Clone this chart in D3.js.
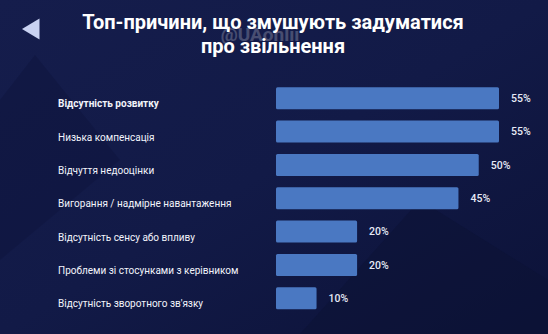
<!DOCTYPE html>
<html><head><meta charset="utf-8">
<script src="https://cdn.jsdelivr.net/npm/d3@7"></script>
<style>
html,body{margin:0;padding:0;background:#10173f;}
svg{display:block;}
</style></head>
<body>
<svg id="chart" width="548" height="334"></svg>
<script>
const categories = [
  "Відсутність розвитку",
  "Низька компенсація",
  "Відчуття недооцінки",
  "Вигорання / надмірне навантаження",
  "Відсутність сенсу або впливу",
  "Проблеми зі стосунками з керівником",
  "Відсутність зворотного зв'язку"
];
const values = [55, 55, 50, 45, 20, 20, 10];
const titleLines = ["Топ-причини, що змушують задуматися", "про звільнення"];
const watermark = "@UAonlii";

const W = 548, H = 334;
const svg = d3.select("#chart");

const defs = svg.append("defs");
const bg = defs.append("linearGradient").attr("id","bg").attr("x1","0").attr("y1","0").attr("x2","1").attr("y2","1");
bg.append("stop").attr("offset","0").attr("stop-color","#151d4c");
bg.append("stop").attr("offset","0.5").attr("stop-color","#121a47");
bg.append("stop").attr("offset","1").attr("stop-color","#0c1238");
svg.append("rect").attr("width",W).attr("height",H).attr("fill","url(#bg)");

// faint background facets
svg.append("path").attr("d","M0,100 L35,55 L120,160 L0,260 Z").attr("fill","#0f1640").attr("opacity",0.6);
svg.append("path").attr("d","M300,334 L420,200 L548,280 L548,334 Z").attr("fill","#0b1133").attr("opacity",0.5);

// back arrow
svg.append("path").attr("d", d3.line()([[22,29],[39.5,18.5],[39.5,39.5]]) + "Z").attr("fill","#c9d2f2");

// title
svg.append("g").selectAll("text").data(titleLines).join("text")
  .attr("x", 273).attr("y", (d,i)=> 29 + i*24)
  .attr("text-anchor","middle")
  .attr("font-family","Roboto, 'Noto Sans', sans-serif")
  .attr("font-weight","700").attr("font-size","20px")
  .attr("fill","#ffffff").text(d=>d);

svg.append("text").attr("x",260).attr("y",41).attr("text-anchor","middle")
  .attr("font-family","Roboto, sans-serif").attr("font-weight","700").attr("font-size","19px")
  .attr("fill","#ffffff").attr("opacity",0.22).text(watermark);

const x = d3.scaleLinear().domain([0, 55]).range([276, 499]);
const y = d3.scaleBand().domain(categories).range([81.6, 314.9]).paddingInner(0.34).paddingOuter(0.17);

const g = svg.append("g");
g.selectAll("rect.bar").data(categories).join("rect").attr("class","bar")
  .attr("x", x(0)).attr("y", d=>y(d))
  .attr("width", (d,i)=> x(values[i]) - x(0))
  .attr("height", y.bandwidth())
  .attr("rx", 1.5)
  .attr("fill","#4a78c2");

g.selectAll("text.val").data(categories).join("text").attr("class","val")
  .attr("x", (d,i)=> x(values[i]) + 12)
  .attr("y", d=> y(d) + y.bandwidth()/2)
  .attr("dy","0.35em")
  .attr("font-family","Roboto, sans-serif").attr("font-weight","500").attr("font-size","10.5px")
  .attr("fill","#e6eaf6").text((d,i)=> values[i] + "%");

g.selectAll("text.cat").data(categories).join("text").attr("class","cat")
  .attr("x", 58)
  .attr("y", d=> y(d) + y.bandwidth()/2 + 5.5)
  .attr("dy","0.35em")
  .attr("font-family","Roboto, sans-serif")
  .attr("font-weight",(d,i)=> i===0 ? "700" : "400")
  .attr("font-size","10px")
  .attr("fill","#f2f4fb").text(d=>d);
</script>
</body></html>
